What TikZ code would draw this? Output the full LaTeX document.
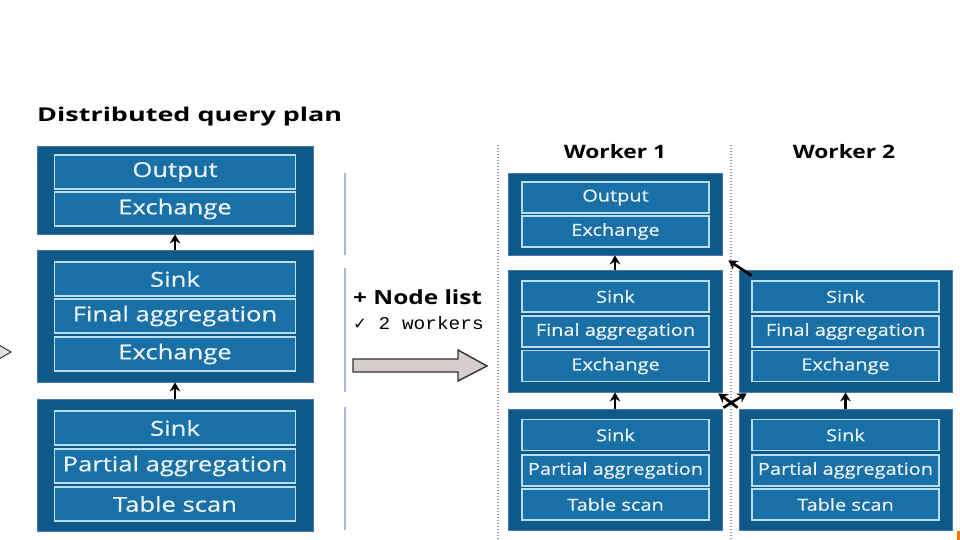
\documentclass[tikz,border=0pt]{standalone}
\usepackage{fontspec}
\setmainfont{Open Sans}
\newfontfamily\boxLf[FakeStretch=1.25,FakeBold=0.6]{Open Sans}
\newfontfamily\boxWf[FakeStretch=1.21,FakeBold=0.5]{Open Sans}
\newfontfamily\titlef[FakeStretch=1.42]{Open Sans}
\newfontfamily\workerf[FakeStretch=1.23]{Open Sans}
\newfontfamily\listf[FakeStretch=1.25]{Open Sans}
\newfontfamily\monof[FakeStretch=1.08]{Liberation Mono}
\newfontfamily\symf{DejaVu Sans}
\usetikzlibrary{arrows.meta,calc}
\definecolor{outerblue}{RGB}{14,88,138}
\definecolor{outerline}{RGB}{70,120,170}
\definecolor{innerblue}{RGB}{24,112,166}
\definecolor{innerline}{RGB}{185,220,240}
\definecolor{boxtext}{RGB}{236,244,250}
\definecolor{divline}{RGB}{170,181,220}
\definecolor{bigarrow}{RGB}{214,206,202}
\tikzset{
  outerbox/.style={fill=outerblue, draw=outerline, line width=0.8pt, inner sep=0pt},
  innerbox/.style={fill=innerblue, draw=innerline, line width=1.3pt, inner sep=0pt, text=boxtext},
  inL/.style={innerbox, minimum width=241pt, minimum height=34pt, font=\boxLf\fontsize{20.5}{24}\selectfont},
  inW/.style={innerbox, minimum width=187pt, minimum height=31pt, font=\boxWf\fontsize{16.5}{20}\selectfont},
  flow/.style={-{Stealth[length=9pt,width=10.5pt]}, line width=2.7pt, black},
  dotline/.style={draw=black!40, line width=1.5pt, dash pattern=on 1.4pt off 1.6pt},
  divider/.style={draw=divline, line width=1.3pt},
  heading/.style={inner sep=0pt}
}
\begin{document}
\begin{tikzpicture}[x=1pt,y=-1pt]
\useasboundingbox (0,0) rectangle (960,540);
\fill[white] (0,0) rectangle (960,540);

% left partial arrow tip
\filldraw[fill=bigarrow!60, draw=black!80, line width=1pt] (-1,345) -- (11,352) -- (-1,359);

% title
\node[heading, anchor=base west, font=\titlef\bfseries\fontsize{19}{23}\selectfont] (title) at (37,122) {Distributed query plan};

% left column
\node[outerbox, minimum width=276pt, minimum height=88pt] (L1) at (175,190) {};
\node[inL] (L1a) at (175,172) {Output};
\node[inL] (L1b) at (175,209) {Exchange};

\node[outerbox, minimum width=276pt, minimum height=132pt] (L2) at (175,316) {};
\node[inL] (L2a) at (175,279) {Sink};
\node[inL] (L2b) at (175,316) {Final aggregation};
\node[inL] (L2c) at (175,354) {Exchange};

\node[outerbox, minimum width=276pt, minimum height=132pt] (L3) at (175,465) {};
\node[inL] (L3a) at (175,428) {Sink};
\node[inL] (L3b) at (175,466) {Partial aggregation};
\node[inL] (L3c) at (175,504) {Table scan};

\draw[flow] (L2.north) -- (L1.south);
\draw[flow] (L3.north) -- (L2.south);

% dividers
\draw[divider] (345,173) -- (345,255);
\draw[divider] (345,268) -- (345,392);
\draw[divider] (345,407) -- (345,530);

% middle
\node[heading, anchor=base west, font=\listf\bfseries\fontsize{19.5}{23}\selectfont] (nodelist) at (353,304) {+ Node list};
\node[heading, anchor=base west, font=\fontsize{18}{22}\selectfont] (workers) at (353,329) {{\symf\fontsize{16.5}{18}\selectfont ✓}\monof\ 2 workers};
\filldraw[fill=bigarrow, draw=black!80, line width=1.4pt]
  (353,359) -- (458,359) -- (458,350) -- (487,366) -- (458,381) -- (458,372) -- (353,372) -- cycle;

% dotted separators
\draw[dotline] (498,145) -- (498,540);
\draw[dotline] (731,145) -- (731,540);

% worker headings
\node[heading, anchor=base, font=\workerf\bfseries\fontsize{18.5}{22}\selectfont] (w1) at (615,159) {Worker 1};
\node[heading, anchor=base, font=\workerf\bfseries\fontsize{18.5}{22}\selectfont] (w2) at (844,159) {Worker 2};

% worker 1
\node[outerbox, minimum width=214pt, minimum height=82pt] (W1a) at (615,214) {};
\node[inW] (W1a1) at (615.5,197.5) {Output};
\node[inW] (W1a2) at (615.5,231.5) {Exchange};

\node[outerbox, minimum width=214pt, minimum height=122pt] (W1b) at (615,331) {};
\node[inW] (W1b1) at (615.5,296.5) {Sink};
\node[inW] (W1b2) at (615.5,331.5) {Final aggregation};
\node[inW] (W1b3) at (615.5,366) {Exchange};

\node[outerbox, minimum width=214pt, minimum height=121pt] (W1c) at (615,469.5) {};
\node[inW] (W1c1) at (615.5,435) {Sink};
\node[inW] (W1c2) at (615.5,470.5) {Partial aggregation};
\node[inW] (W1c3) at (615.5,504.5) {Table scan};

% worker 2
\node[outerbox, minimum width=213pt, minimum height=122pt] (W2b) at (845.5,331) {};
\node[inW] (W2b1) at (845.5,296.5) {Sink};
\node[inW] (W2b2) at (845.5,331.5) {Final aggregation};
\node[inW] (W2b3) at (845.5,366) {Exchange};

\node[outerbox, minimum width=213pt, minimum height=121pt] (W2c) at (845.5,469.5) {};
\node[inW] (W2c1) at (845.5,435) {Sink};
\node[inW] (W2c2) at (845.5,470.5) {Partial aggregation};
\node[inW] (W2c3) at (845.5,504.5) {Table scan};

% flows
\draw[flow] (W1b.north) -- (W1a.south);
\draw[flow] (W1c.north) -- (W1b.south);
\draw[flow] (W2c.north -| W2c1) -- (W2b.south -| W2c1);
\draw[flow] ($(W2b.north west)+(13,6)$) -- ($(W1a.south east)+(6,5)$);
\draw[flow] ($(W2c.north west)+(-1,-1)$) -- ($(W1b.south east)+(-4,1)$);
\draw[flow] ($(W1c.north east)+(1,-1)$) -- ($(W2b.south west)+(8,1)$);

% corner mark
\fill[orange!90!red] (957,531) rectangle (960,540);
\end{tikzpicture}
\end{document}
